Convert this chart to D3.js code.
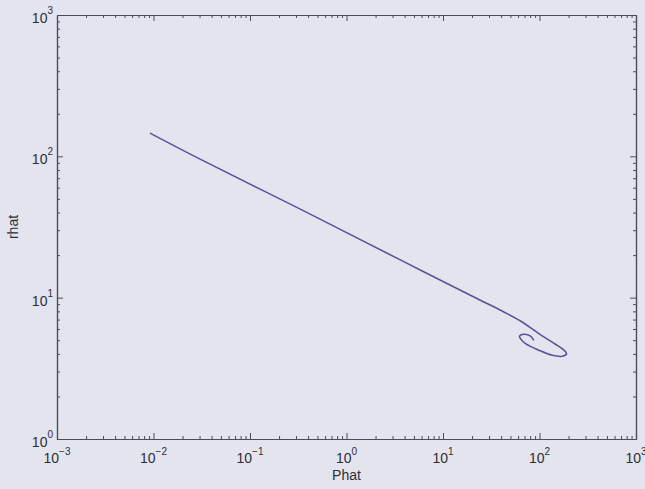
<!doctype html>
<html lang="en">
<head>
  <meta charset="utf-8">
  <title>rhat vs Phat</title>
  <script src="https://d3js.org/d3.v7.min.js"></script>
  <style>
    body { margin: 0; background: #e4e4ef; }
    text { font-family: "Liberation Sans", Arial, sans-serif; fill: #2e2e36; }
  </style>
</head>
<body>
<svg id="chart" width="645" height="489"></svg>
<script>
// trajectory (Phat, rhat)
var phat = [0.0092, 0.0304, 0.332, 3.61, 24.4, 39.4, 63.5, 98.4, 146.6, 173, 190.6,
            172, 135.5, 98.4, 71.6, 63.5, 62.1, 68.7, 80.7, 87.3];
var rhat = [146, 95.5, 42.3, 18.5, 9.59, 8.15, 6.84, 5.57, 4.68, 4.34, 4.01,
            3.85, 3.91, 4.25, 4.73, 5.13, 5.33, 5.51, 5.35, 4.99];

var xDecades = [-3, -2, -1, 0, 1, 2, 3];
var yDecades = [0, 1, 2, 3];

var svg = d3.select("#chart");
var mLeft = 57, mRight = 636, mTop = 15, mBottom = 439;

svg.append("rect").attr("width", 645).attr("height", 489).attr("fill", "#e4e4ef");

var x = d3.scaleLog().domain([1e-3, 1e3]).range([mLeft, mRight]);
var y = d3.scaleLog().domain([1, 1e3]).range([mBottom, mTop]);

var xMajor = xDecades.map(function(e) { return Math.pow(10, e); });
var yMajor = yDecades.map(function(e) { return Math.pow(10, e); });
var xMinor = x.ticks().filter(function(v) { return xMajor.indexOf(v) < 0; });
var yMinor = y.ticks().filter(function(v) { return yMajor.indexOf(v) < 0; });

var axisColor = "#4c4c58";

function styleAxis(g) {
  g.selectAll("path").attr("stroke", axisColor).attr("stroke-width", 1.2);
  g.selectAll("line").attr("stroke", axisColor).attr("stroke-width", 1);
  g.selectAll("text").remove();
}

// ticks on all four sides, pointing inward
[[xMajor, 6], [xMinor, 3]].forEach(function(t) {
  svg.append("g").attr("transform", "translate(0," + mBottom + ")")
    .call(d3.axisBottom(x).tickValues(t[0]).tickSize(-t[1]).tickSizeOuter(0)).call(styleAxis);
  svg.append("g").attr("transform", "translate(0," + mTop + ")")
    .call(d3.axisTop(x).tickValues(t[0]).tickSize(-t[1]).tickSizeOuter(0)).call(styleAxis);
});
[[yMajor, 6], [yMinor, 3]].forEach(function(t) {
  svg.append("g").attr("transform", "translate(" + mLeft + ",0)")
    .call(d3.axisLeft(y).tickValues(t[0]).tickSize(-t[1]).tickSizeOuter(0)).call(styleAxis);
  svg.append("g").attr("transform", "translate(" + mRight + ",0)")
    .call(d3.axisRight(y).tickValues(t[0]).tickSize(-t[1]).tickSizeOuter(0)).call(styleAxis);
});

// tick labels 10^n
xDecades.forEach(function(e) {
  var t = svg.append("text").attr("x", x(Math.pow(10, e))).attr("y", 463)
    .attr("text-anchor", "middle").style("font-size", "14px");
  t.append("tspan").text("10");
  t.append("tspan").attr("dy", -8).style("font-size", "10px").text(String(e).replace("-", "\u2212"));
});
yDecades.forEach(function(e) {
  var t = svg.append("text").attr("x", 53).attr("y", y(Math.pow(10, e)) + 8)
    .attr("text-anchor", "end").style("font-size", "14px");
  t.append("tspan").text("10");
  t.append("tspan").attr("dy", -9).style("font-size", "10px").text(String(e));
});

// axis titles
svg.append("text").attr("x", (mLeft + mRight) / 2).attr("y", 480)
  .attr("text-anchor", "middle").style("font-size", "14px").text("Phat");
svg.append("text").attr("transform", "translate(18," + (mTop + mBottom) / 2 + ") rotate(-90)")
  .attr("text-anchor", "middle").style("font-size", "14px").text("rhat");

// curve
var pts = phat.map(function(p, i) { return [p, rhat[i]]; });
var line = d3.line()
  .x(function(d) { return x(d[0]); })
  .y(function(d) { return y(d[1]); })
  .curve(d3.curveCatmullRom.alpha(0.5));

svg.append("path").datum(pts)
  .attr("d", line)
  .attr("fill", "none")
  .attr("stroke", "#55559c")
  .attr("stroke-width", 1.6);
</script>
</body>
</html>
